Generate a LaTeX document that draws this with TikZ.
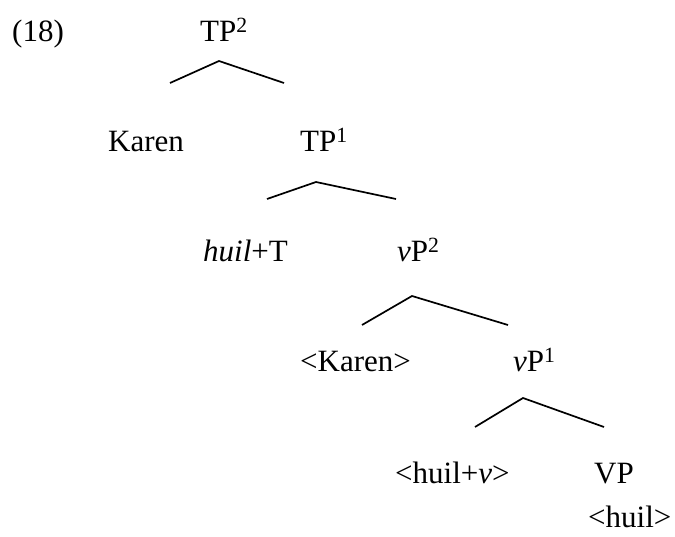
\documentclass[tikz,border=0pt]{standalone}
\usepackage{fontspec}
\setmainfont{Liberation Serif}
\usetikzlibrary{positioning}

\begin{document}
\begin{tikzpicture}[x=1pt,y=-1pt,
  lbl/.style={anchor=base west,inner sep=0pt,font=\fontsize{31}{36}\selectfont},
  branch/.style={line width=1.7pt}]
\useasboundingbox (0,0) rectangle (675,537);

% Example number and tree labels
\node[lbl] (ex) at (12,42) {(18)};
\node[lbl] (tp2) at (200,42) {TP\textsuperscript{2}};
\node[lbl] (karen) at (108,152) {Karen};
\node[lbl] (tp1) at (300,152) {TP\textsuperscript{1}};
\node[lbl] (huilT) at (203,262) {\textit{huil}+T};
\node[lbl] (vp2) at (397,262) {\textit{v}P\textsuperscript{2}};
\node[lbl] (karencopy) at (300,372) {<Karen>};
\node[lbl] (vp1) at (513,372) {\textit{v}P\textsuperscript{1}};
\node[lbl] (huilv) at (395,483) {<huil+\textit{v}>};
\node[lbl] (vp) at (594,483) {VP};
\node[lbl] (huilcopy) at (588,527) {<huil>};

% Branch points
\coordinate (tp2-top) at (219,61);
\coordinate (tp2-l) at (170,83);
\coordinate (tp2-r) at (284,83);
\coordinate (tp1-top) at (316,182);
\coordinate (tp1-l) at (267,199);
\coordinate (tp1-r) at (396,199);
\coordinate (vp2-top) at (412,296);
\coordinate (vp2-l) at (362,325);
\coordinate (vp2-r) at (508,325);
\coordinate (vp1-top) at (523,398);
\coordinate (vp1-l) at (475,427);
\coordinate (vp1-r) at (604,427);

% Branches
\draw[branch] (tp2-l) -- (tp2-top) -- (tp2-r);
\draw[branch] (tp1-l) -- (tp1-top) -- (tp1-r);
\draw[branch] (vp2-l) -- (vp2-top) -- (vp2-r);
\draw[branch] (vp1-l) -- (vp1-top) -- (vp1-r);
\end{tikzpicture}
\end{document}
